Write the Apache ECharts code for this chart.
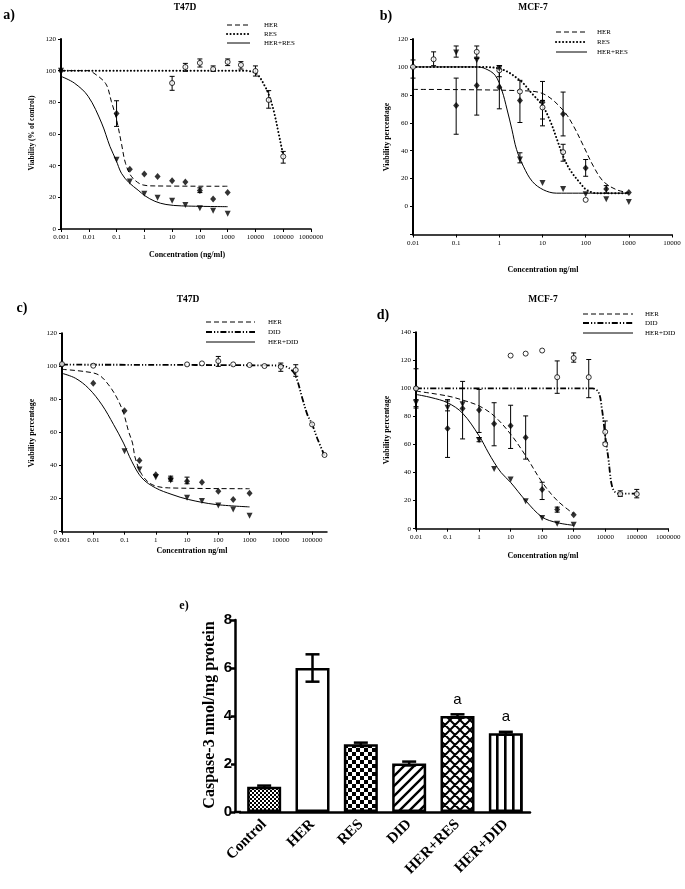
<!DOCTYPE html>
<html><head><meta charset="utf-8">
<script src="https://cdn.jsdelivr.net/npm/echarts@6.0.0/dist/echarts.min.js"></script>
<style>html,body{margin:0;padding:0;background:#fff}#c{width:685px;height:889px}</style>
</head><body><div id="c"></div>
<script>
// ================= DATA =================
// tick labels
const aXTicks = ['0.001','0.01','0.1','1','10','100','1000','10000','100000','1000000'];
const bXTicks = ['0.01','0.1','1','10','100','1000','10000'];
const cXTicks = ['0.001','0.01','0.1','1','10','100','1000','10000','100000'];
const dXTicks = ['0.01','0.1','1','10','100','1000','10000','100000','1000000'];

// ---- panel a (T47D, HER / RES / HER+RES) ----
const aCurveHerX = [0.001, 0.01, 0.0125, 0.04, 0.065, 0.1, 0.15, 0.21, 0.35, 0.9, 2.4, 1000];
const aCurveHerY = [100, 100, 99.5, 92, 80.6, 69, 54, 41.5, 33, 27.8, 27.2, 27];
const aCurveResX = [0.001, 3000, 10000, 23000, 35000, 48000, 69000, 91000, 105000];
const aCurveResY = [100, 100, 98.5, 89.5, 81.5, 73, 60, 50, 45];
const aCurveComboX = [0.001, 0.003, 0.0095, 0.029, 0.058, 0.095, 0.15, 0.28, 0.6, 1.05, 2.4, 6, 22, 1000];
const aCurveComboY = [96.4, 92.2, 83.8, 66.9, 52.1, 43.7, 35.2, 29.3, 24.5, 21.0, 17.5, 15.5, 14.6, 14.1];
const aHerX = [0.001, 0.1, 0.3, 1, 3, 10, 30, 100, 300, 1000];
const aHerY = [100, 73, 37.8, 34.8, 33.1, 30.4, 29.7, 24.3, 19, 23];
const aHerLo = [null, 64.8, null, null, null, null, null, 23, null, null];
const aHerHi = [null, 81, null, null, null, null, null, 26, null, null];
const aResX = [10, 30, 100, 300, 1000, 3000, 10000, 30000, 100000];
const aResY = [92.2, 102.3, 104.9, 101, 105.5, 103.6, 99.8, 81.5, 45.8];
const aResLo = [87.6, 99.6, 102.3, 99.6, 103.2, 101, 96.6, 76.3, 41.6];
const aResHi = [96.4, 104.6, 107.4, 103, 107.4, 105.7, 103, 87.4, 49];
const aComboX = [0.001, 0.1, 0.3, 1, 3, 10, 30, 100, 300, 1000];
const aComboY = [100, 43.7, 30, 22.2, 19.8, 17.9, 15.2, 13.1, 11.6, 9.7];

// ---- panel b (MCF-7, HER / RES / HER+RES) ----
const bCurveHerX = [0.01, 3, 10.5, 30, 52, 89, 151, 257, 525, 1000];
const bCurveHerY = [83.9, 83, 80.7, 69, 57.8, 43.4, 28.9, 18, 12, 10];
const bCurveResX = [0.01, 0.3, 1, 3, 5.8, 10, 15, 21.6, 30, 43, 74, 105, 180, 1000];
const bCurveResY = [100, 100, 98.8, 90.4, 80.7, 72.3, 61.4, 48.2, 36.1, 26.5, 16.9, 12, 9.6, 9.6];
const bCurveComboX = [0.01, 0.3, 0.47, 0.8, 1.15, 1.5, 1.95, 2.5, 3.6, 5.8, 10.5, 21, 1000];
const bCurveComboY = [100, 100, 98.8, 94, 83, 69.9, 55.4, 41, 28.9, 18, 12, 9.6, 9.6];
const bHerX = [0.1, 0.3, 1, 3, 10, 30, 100, 300, 1000];
const bHerY = [72.3, 86.7, 85.5, 75.9, 74.7, 66.3, 27.7, 12.5, 10];
const bHerLo = [51.8, 65.5, 70, 60.2, 62.7, 50.6, 21.7, 9.6, null];
const bHerHi = [92, 106, 101, 90.4, 89.6, 82, 33.7, 15, null];
const bResX = [0.01, 0.03, 0.3, 1, 3, 10, 30, 100];
const bResY = [100, 105.5, 110.8, 97.6, 82.4, 71, 39, 4.8];
const bResLo = [92, 100.9, 107, 93, null, 57.8, 32.5, null];
const bResHi = [105, 110.8, 115, 101, null, 76, 44.6, null];
const bComboX = [0.1, 0.3, 1, 3, 10, 30, 100, 300, 1000];
const bComboY = [110.4, 104.8, 98.8, 33.7, 16.9, 12.5, 8.9, 5.3, 3.3];
const bComboLo = [107, null, null, 31.3, null, null, null, null, null];
const bComboHi = [115, null, null, 38.5, null, null, null, null, null];

// ---- panel c (T47D, HER / DID / HER+DID) ----
const cCurveHerX = [0.001, 0.0056, 0.015, 0.031, 0.058, 0.093, 0.135, 0.18, 0.22, 0.36, 0.76, 2.6, 1000];
const cCurveHerY = [98.2, 96.8, 94.8, 88.8, 80.7, 71.7, 60.6, 53.6, 44.6, 34.5, 28.5, 26.5, 26];
const cCurveDidX = [0.001, 10000, 20000, 30000, 50000, 70000, 100000, 150000, 250000];
const cCurveDidY = [101, 100.5, 98.5, 94, 80, 71, 65, 56, 46];
const cCurveComboX = [0.001, 0.0027, 0.0071, 0.019, 0.045, 0.093, 0.17, 0.36, 0.98, 3.3, 11, 79, 1000];
const cCurveComboY = [95.8, 92.8, 86.7, 76.7, 64.7, 53.6, 42.6, 32.5, 26.5, 22.5, 19.5, 16.5, 15];
const cHerX = [0.001, 0.01, 0.1, 0.3, 1, 3, 10, 30, 100, 300, 1000];
const cHerY = [101, 89.8, 73.1, 43, 34.5, 32.1, 30.5, 29.9, 24.5, 19.5, 23.2];
const cHerLo = [null, null, null, null, null, 30.6, 29, null, null, null, null];
const cHerHi = [null, null, null, null, null, 33.6, 33, null, null, null, null];
const cDidX = [0.001, 0.01, 10, 30, 100, 300, 1000, 3000, 10000, 30000, 100000, 250000];
const cDidY = [101.4, 100.4, 101.2, 101.8, 103.2, 101.2, 100.8, 100.2, 99.8, 97.8, 64.9, 46.4];
const cDidLo = [null, null, null, null, 100, null, null, null, 97, 94, null, null];
const cDidHi = [null, null, null, null, 106, null, null, null, 102, 101, null, null];
const cComboX = [0.1, 0.3, 1, 3, 10, 30, 100, 300, 1000];
const cComboY = [48.6, 37.6, 33, 31, 20.5, 18.5, 15.9, 13.5, 9.7];

// ---- panel d (MCF-7, HER / DID / HER+DID) ----
const dCurveHerX = [0.01, 0.1, 0.3, 1, 3, 10, 30, 100, 300, 1000];
const dCurveHerY = [98.1, 94.6, 91.7, 87.5, 80.4, 67.4, 52, 33.1, 20.1, 10.6];
const dCurveDidX = [0.01, 4000, 6200, 7900, 8900, 10000, 11200, 12600, 14100, 15800, 19000, 26000, 100000];
const dCurveDidY = [100, 100, 97, 85, 76, 66, 58, 50, 40, 32, 27, 25, 25];
const dCurveComboX = [0.01, 0.03, 0.1, 0.3, 1, 2, 3, 5, 10, 30, 100, 300, 1000];
const dCurveComboY = [95.7, 93.5, 89.8, 82.3, 66.2, 54, 47.3, 40, 33, 20, 8.3, 4.3, 2.4];
const dHerX = [0.01, 0.1, 0.3, 1, 3, 10, 30, 100, 300, 1000];
const dHerY = [100, 71.4, 85.6, 84.6, 74.9, 73.3, 65, 27.9, 13.7, 9.9];
const dHerLo = [86, 50.8, 64, 68.6, 59.1, 57.2, 49.6, 20.8, 11.8, null];
const dHerHi = [114, 91, 105, 99.3, 89.8, 88, 80.4, 33.1, 15.4, null];
const dDidX = [0.01, 10, 30, 100, 300, 1000, 3000, 10000, 10000, 30000, 100000];
const dDidY = [100, 123.4, 124.8, 127, 108, 121.7, 108, 69, 60.3, 24.7, 24.7];
const dDidLo = [null, null, null, null, 96.5, 118.7, 93.4, 61.5, null, 23, 22];
const dDidHi = [null, null, null, null, 119.6, 125.3, 120.6, 76.8, null, 27, 28];
const dComboX = [0.01, 0.1, 0.3, 1, 3, 10, 30, 100, 300, 1000];
const dComboY = [89.8, 86.3, 88.7, 63.1, 42.6, 35, 19.6, 7.6, 3.5, 2.8];
const dComboLo = [87, 84, null, 62, null, null, null, null, null, null];
const dComboHi = [92, 92, null, 65, null, null, null, null, null, null];

// ---- panel e (caspase-3) ----
const eCats = ['Control', 'HER', 'RES', 'DID', 'HER+RES', 'HER+DID'];
const eVals = [1.05, 6.0, 2.82, 2.02, 4.0, 3.28];
const eErr = [0.05, 0.57, 0.07, 0.08, 0.07, 0.06];
const eSig = ['', '', '', '', 'a', 'a'];

// ================= STYLE / HELPERS =================
const SERIF = "'Liberation Serif','Times New Roman',serif";
const SANS = "'Liberation Sans',Arial,sans-serif";
const DASH = {type: [5, 3], width: 1};
const DOT = {type: [0.1, 3.4], width: 2, cap: 'round'};
const DASHDOT = {type: [6, 2, 1.2, 2, 1.2, 2], width: 1.8};
const SOLID = {type: 'solid', width: 1};

function pairs(xs, ys) { return xs.map((x, i) => [x, ys[i]]); }
function logFmt(ticks) {
  return function (v) {
    const e = Math.log10(v);
    for (let i = 0; i < ticks.length; i++) {
      if (Math.abs(Math.log10(+ticks[i]) - e) < 1e-6) return ticks[i];
    }
    return '';
  };
}
function logAxis(gi, min, max, ticks) {
  const vals = ticks.map(Number);
  return {gridIndex: gi, type: 'log', logBase: 10, min: min, max: max,
    axisLine: {show: true, onZero: false, lineStyle: {color: '#000', width: 1.5}},
    axisTick: {show: true, length: 3, lineStyle: {color: '#000', width: 1}, customValues: vals},
    axisLabel: {customValues: vals, formatter: logFmt(ticks), fontSize: 7, fontFamily: SERIF, color: '#000', margin: 5},
    splitLine: {show: false}, minorTick: {show: false}};
}
function valAxis(gi, min, max, interval) {
  return {gridIndex: gi, type: 'value', min: min, max: max, interval: interval,
    axisLine: {show: true, onZero: false, lineStyle: {color: '#000', width: 2}},
    axisTick: {show: true, length: 3, lineStyle: {color: '#000', width: 1}},
    axisLabel: {fontSize: 7, fontFamily: SERIF, color: '#000', margin: 5,
      formatter: v => (v < 0 ? '' : String(v))},
    splitLine: {show: false}};
}
function curve(gi, xs, ys, style) {
  return {type: 'line', xAxisIndex: gi, yAxisIndex: gi, data: pairs(xs, ys),
    showSymbol: false, symbol: 'none', smooth: 0.35, silent: true, z: 2,
    lineStyle: Object.assign({color: '#000'}, style)};
}
function marks(gi, xs, ys, kind) {
  const s = {type: 'scatter', xAxisIndex: gi, yAxisIndex: gi, data: pairs(xs, ys), silent: true, z: 4};
  if (kind === 'diamond') { s.symbol = 'diamond'; s.symbolSize = [6, 7]; s.itemStyle = {color: '#000'}; }
  if (kind === 'circle') { s.symbol = 'circle'; s.symbolSize = 5; s.itemStyle = {color: '#fff', borderColor: '#000', borderWidth: 1}; }
  if (kind === 'tri') { s.symbol = 'triangle'; s.symbolSize = 6; s.symbolRotate = 180; s.itemStyle = {color: '#000'}; }
  return s;
}
function errs(gi, xs, lo, hi) {
  const data = [];
  xs.forEach((x, i) => { if (lo[i] != null && hi[i] != null) data.push([x, lo[i], hi[i]]); });
  return {type: 'custom', xAxisIndex: gi, yAxisIndex: gi, data: data, silent: true, z: 3,
    encode: {x: 0, y: [1, 2]},
    renderItem: function (params, api) {
      const x = api.value(0);
      const p1 = api.coord([x, api.value(1)]);
      const p2 = api.coord([x, api.value(2)]);
      const st = {stroke: '#000', lineWidth: 1};
      return {type: 'group', children: [
        {type: 'line', shape: {x1: p1[0], y1: p1[1], x2: p2[0], y2: p2[1]}, style: st},
        {type: 'line', shape: {x1: p1[0] - 2.5, y1: p1[1], x2: p1[0] + 2.5, y2: p1[1]}, style: st},
        {type: 'line', shape: {x1: p2[0] - 2.5, y1: p2[1], x2: p2[0] + 2.5, y2: p2[1]}, style: st}
      ]};
    }};
}
function pattern(w, h, draw) {
  const c = document.createElement('canvas');
  c.width = w; c.height = h;
  const g = c.getContext('2d');
  g.fillStyle = '#fff'; g.fillRect(0, 0, w, h);
  g.fillStyle = '#000'; g.strokeStyle = '#000';
  draw(g);
  return {image: c, repeat: 'repeat'};
}
const pats = [
  pattern(4, 4, g => { g.fillRect(0, 0, 2, 2); g.fillRect(2, 2, 2, 2); }),
  '#fff',
  pattern(8, 8, g => { g.fillRect(0, 0, 4, 4); g.fillRect(4, 4, 4, 4); }),
  pattern(10, 10, g => { g.lineWidth = 2.4; g.beginPath();
    g.moveTo(-2, 12); g.lineTo(12, -2); g.moveTo(-2, 2); g.lineTo(2, -2); g.moveTo(8, 12); g.lineTo(12, 8); g.stroke(); }),
  pattern(10, 10, g => { g.lineWidth = 2; g.beginPath();
    g.moveTo(-2, 12); g.lineTo(12, -2); g.moveTo(-2, 2); g.lineTo(2, -2); g.moveTo(8, 12); g.lineTo(12, 8);
    g.moveTo(-2, -2); g.lineTo(12, 12); g.moveTo(-2, 8); g.lineTo(2, 12); g.moveTo(8, -2); g.lineTo(12, 2); g.stroke(); }),
  pattern(8, 8, g => { g.fillRect(0, 0, 2.6, 8); })
];

function txt(x, y, text, size, weight, family, rot, align) {
  return {type: 'text', x: x, y: y, rotation: rot || 0, silent: true,
    style: {text: text, fontSize: size, fontWeight: weight, fontFamily: family, fill: '#000',
      align: align || 'center', verticalAlign: 'middle', textAlign: align || 'center', textVerticalAlign: 'middle'}};
}
function legLine(x1, x2, y, style) {
  const s = {stroke: '#000', lineWidth: style.width};
  if (Array.isArray(style.type)) s.lineDash = style.type;
  if (style.cap) s.lineCap = style.cap;
  return {type: 'line', silent: true, shape: {x1: x1, y1: y, x2: x2, y2: y}, style: s};
}
function legend(x1, x2, tx, ys, names, styles) {
  const out = [];
  names.forEach((n, i) => {
    out.push(legLine(x1, x2, ys[i], styles[i]));
    out.push(txt(tx, ys[i], n, 7, 'normal', SERIF, 0, 'left'));
  });
  return out;
}

// ================= CHART =================
const chart = echarts.init(document.getElementById('c'), null, {renderer: 'canvas'});
const PI2 = Math.PI / 2;
const graphics = [].concat(
  [
    txt(185, 8, 'T47D', 9.5, 'bold', SERIF), txt(533, 8, 'MCF-7', 9.5, 'bold', SERIF),
    txt(188, 300, 'T47D', 9.5, 'bold', SERIF), txt(543, 300, 'MCF-7', 9.5, 'bold', SERIF),
    txt(9, 15, 'a)', 14, 'bold', SERIF), txt(386, 16, 'b)', 14, 'bold', SERIF),
    txt(22, 308, 'c)', 14, 'bold', SERIF), txt(383, 315, 'd)', 14, 'bold', SERIF),
    txt(184, 606, 'e)', 12, 'bold', SERIF),
    txt(32, 133, 'Viability (% of control)', 7.5, 'bold', SERIF, PI2),
    txt(187, 255, 'Concentration (ng/ml)', 8, 'bold', SERIF),
    txt(387, 137, 'Viability percentage', 8, 'bold', SERIF, PI2),
    txt(543, 270, 'Concentration ng/ml', 8, 'bold', SERIF),
    txt(32, 433, 'Viability percentage', 8, 'bold', SERIF, PI2),
    txt(192, 551, 'Concentration ng/ml', 8, 'bold', SERIF),
    txt(387, 430, 'Viability percentage', 8, 'bold', SERIF, PI2),
    txt(543, 556, 'Concentration ng/ml', 8, 'bold', SERIF),
    txt(210, 715, 'Caspase-3 nmol/mg protein', 16, 'bold', SERIF, PI2),
    {type: 'line', silent: true, shape: {x1: 234, y1: 812, x2: 241, y2: 812}, style: {stroke: '#000', lineWidth: 2.5}}
  ],
  legend(227, 250, 264, [25, 34, 43], ['HER', 'RES', 'HER+RES'], [DASH, DOT, SOLID]),
  legend(556, 587, 597, [32, 42, 52], ['HER', 'RES', 'HER+RES'], [DASH, DOT, SOLID]),
  legend(206, 255, 268, [322, 332, 342], ['HER', 'DID', 'HER+DID'], [DASH, DASHDOT, SOLID]),
  legend(583, 633, 645, [314, 323, 333], ['HER', 'DID', 'HER+DID'], [DASH, DASHDOT, SOLID])
);

const option = {
  animation: false,
  backgroundColor: '#fff',
  grid: [
    {left: 61, top: 39, width: 250, height: 190, outerBoundsMode: 'none'},
    {left: 413, top: 39, width: 259, height: 195.5, outerBoundsMode: 'none'},
    {left: 62, top: 333.3, width: 265, height: 198.4, outerBoundsMode: 'none'},
    {left: 416, top: 332.3, width: 252.3, height: 196.4, outerBoundsMode: 'none'},
    {left: 240, top: 620, width: 290, height: 192, outerBoundsMode: 'none'}
  ],
  xAxis: [
    logAxis(0, 0.001, 1000000, aXTicks),
    logAxis(1, 0.01, 10000, bXTicks),
    logAxis(2, 0.001, 300000, cXTicks),
    logAxis(3, 0.01, 1000000, dXTicks),
    {gridIndex: 4, type: 'category', data: eCats, boundaryGap: true,
      axisLine: {lineStyle: {color: '#000', width: 2.5}},
      axisTick: {alignWithLabel: true, length: 6, lineStyle: {color: '#000', width: 2.5}},
      axisLabel: {rotate: 45, fontSize: 15, fontWeight: 'bold', fontFamily: SERIF, color: '#000', margin: 10, interval: 0}}
  ],
  yAxis: [
    valAxis(0, 0, 120, 20),
    valAxis(1, -20, 120, 20),
    valAxis(2, 0, 120, 20),
    valAxis(3, 0, 140, 20),
    {gridIndex: 4, type: 'value', min: 0, max: 8, interval: 2, offset: 5,
      axisLine: {show: true, lineStyle: {color: '#000', width: 2.5}},
      axisTick: {show: true, length: 4, lineStyle: {color: '#000', width: 2.5}},
      axisLabel: {fontSize: 15, fontWeight: 'bold', fontFamily: SANS, color: '#000', margin: 3},
      splitLine: {show: false}}
  ],
  graphic: {elements: graphics},
  series: [
    // a
    curve(0, aCurveHerX, aCurveHerY, DASH),
    curve(0, aCurveResX, aCurveResY, DOT),
    curve(0, aCurveComboX, aCurveComboY, SOLID),
    errs(0, aHerX, aHerLo, aHerHi), errs(0, aResX, aResLo, aResHi),
    marks(0, aHerX, aHerY, 'diamond'), marks(0, aResX, aResY, 'circle'), marks(0, aComboX, aComboY, 'tri'),
    // b
    curve(1, bCurveHerX, bCurveHerY, DASH),
    curve(1, bCurveResX, bCurveResY, DOT),
    curve(1, bCurveComboX, bCurveComboY, SOLID),
    errs(1, bHerX, bHerLo, bHerHi), errs(1, bResX, bResLo, bResHi), errs(1, bComboX, bComboLo, bComboHi),
    marks(1, bHerX, bHerY, 'diamond'), marks(1, bResX, bResY, 'circle'), marks(1, bComboX, bComboY, 'tri'),
    // c
    curve(2, cCurveHerX, cCurveHerY, DASH),
    curve(2, cCurveDidX, cCurveDidY, DASHDOT),
    curve(2, cCurveComboX, cCurveComboY, SOLID),
    errs(2, cHerX, cHerLo, cHerHi), errs(2, cDidX, cDidLo, cDidHi),
    marks(2, cHerX, cHerY, 'diamond'), marks(2, cDidX, cDidY, 'circle'), marks(2, cComboX, cComboY, 'tri'),
    // d
    curve(3, dCurveHerX, dCurveHerY, DASH),
    curve(3, dCurveDidX, dCurveDidY, DASHDOT),
    curve(3, dCurveComboX, dCurveComboY, SOLID),
    errs(3, dHerX, dHerLo, dHerHi), errs(3, dDidX, dDidLo, dDidHi), errs(3, dComboX, dComboLo, dComboHi),
    marks(3, dHerX, dHerY, 'diamond'), marks(3, dDidX, dDidY, 'circle'), marks(3, dComboX, dComboY, 'tri'),
    // e
    {type: 'bar', xAxisIndex: 4, yAxisIndex: 4, barWidth: 34, silent: true, z: 2,
      data: eVals.map((v, i) => ({value: v, itemStyle: {color: pats[i]}})),
      itemStyle: {borderColor: '#000', borderWidth: 2.5},
      label: {show: true, position: 'top', distance: 9, fontSize: 15, fontFamily: SANS, color: '#000',
        formatter: p => eSig[p.dataIndex]}},
    {type: 'custom', xAxisIndex: 4, yAxisIndex: 4, silent: true, z: 5,
      data: eVals.map((v, i) => [i, v, eErr[i]]),
      renderItem: function (params, api) {
        const i = api.value(0), v = api.value(1), e = api.value(2);
        const lo = api.coord([i, v - e]), hi = api.coord([i, v + e]);
        const st = {stroke: '#000', lineWidth: 2.5};
        return {type: 'group', children: [
          {type: 'line', shape: {x1: lo[0], y1: lo[1], x2: hi[0], y2: hi[1]}, style: st},
          {type: 'line', shape: {x1: hi[0] - 7, y1: hi[1], x2: hi[0] + 7, y2: hi[1]}, style: st},
          {type: 'line', shape: {x1: lo[0] - 7, y1: lo[1], x2: lo[0] + 7, y2: lo[1]}, style: st}
        ]};
      }}
  ]
};
chart.setOption(option);
</script>
</body></html>
